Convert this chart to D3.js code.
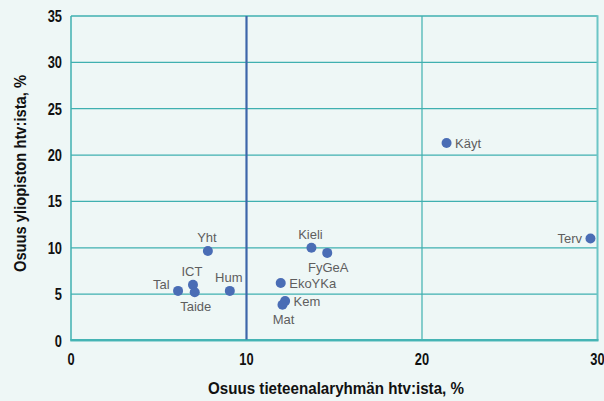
<!DOCTYPE html>
<html>
<head>
<meta charset="utf-8">
<script src="https://cdn.jsdelivr.net/npm/d3@7"></script>
<style>
  html, body { margin: 0; padding: 0; background: #eef7f6; }
  svg { display: block; }
</style>
</head>
<body>
<svg id="chart" width="604" height="401"></svg>
<script>
// ---- data ----
const categories = ["Käyt", "Terv", "Kieli", "FyGeA", "Yht", "ICT", "Taide", "Tal", "Hum", "EkoYKa", "Kem", "Mat"];
const xValues = [21.4, 29.6, 13.7, 14.6, 7.8, 6.95, 7.05, 6.1, 9.05, 11.95, 12.2, 12.05];
const yValues = [21.3, 11.0, 10.0, 9.45, 9.65, 6.0, 5.2, 5.35, 5.35, 6.2, 4.25, 3.85];
const xTicks = [0, 10, 20, 30];
const yTicks = [0, 5, 10, 15, 20, 25, 30, 35];
const xTitle = "Osuus tieteenalaryhmän htv:ista, %";
const yTitle = "Osuus yliopiston htv:ista, %";

// label placement (style)
const place = {
  "Käyt": "right", "Terv": "left", "Kieli": "above", "FyGeA": "below", "Yht": "above",
  "ICT": "above", "Taide": "below", "Tal": "leftHigh", "Hum": "above", "EkoYKa": "right",
  "Kem": "right", "Mat": "below"
};
const placeOffsets = {
  above: [-1, -9, "middle"],
  below: [1, 19, "middle"],
  right: [8.5, 4.5, "start"],
  left: [-8.5, 4.5, "end"],
  leftHigh: [-8.5, -1.5, "end"]
};

const svg = d3.select("#chart");
const x = d3.scaleLinear().domain([0, 30]).range([71, 597.5]);
const y = d3.scaleLinear().domain([0, 35]).range([340.5, 16]);

const teal = "#3fb0b0";
const boldFont = "'Liberation Sans', Arial, sans-serif";
const sx = 0.78; // condensed look

// background
svg.append("rect").attr("width", 604).attr("height", 401).attr("fill", "#eef7f6");

// horizontal grid lines
svg.append("g").selectAll("line").data(yTicks.filter(d => d > 0)).join("line")
  .attr("x1", x(0)).attr("x2", x(30))
  .attr("y1", d => y(d)).attr("y2", d => y(d))
  .attr("stroke", teal).attr("stroke-width", 1.3);

// vertical line at 20
svg.append("line").attr("x1", x(20)).attr("x2", x(20)).attr("y1", y(35)).attr("y2", y(0))
  .attr("stroke", teal).attr("stroke-width", 1.2);
// left axis line
svg.append("line").attr("x1", x(0)).attr("x2", x(0)).attr("y1", y(35)).attr("y2", y(0))
  .attr("stroke", teal).attr("stroke-width", 1.5);
// right border
svg.append("line").attr("x1", x(30)).attr("x2", x(30)).attr("y1", y(35) - 0.7).attr("y2", y(0))
  .attr("stroke", "#6cc6c6").attr("stroke-width", 2);
// bottom axis
svg.append("line").attr("x1", x(0) - 0.7).attr("x2", x(30) + 1).attr("y1", y(0) - 0.5).attr("y2", y(0) - 0.5)
  .attr("stroke", "#45b4b4").attr("stroke-width", 2);
svg.append("line").attr("x1", x(0) - 0.7).attr("x2", x(30) + 1).attr("y1", y(0) + 1).attr("y2", y(0) + 1)
  .attr("stroke", "#9fd8d8").attr("stroke-width", 1);
// vertical blue line at 10
svg.append("line").attr("x1", x(10)).attr("x2", x(10)).attr("y1", y(35)).attr("y2", y(0) - 1)
  .attr("stroke", "#3d66aa").attr("stroke-width", 2.2);

// y tick labels
svg.append("g").selectAll("text").data(yTicks).join("text")
  .attr("transform", d => `translate(62,${y(d) + 6}) scale(${sx},1)`)
  .attr("text-anchor", "end")
  .attr("font-family", boldFont).attr("font-weight", "bold").attr("font-size", 16.5)
  .attr("fill", "#111")
  .text(d => d);

// x tick labels
svg.append("g").selectAll("text").data(xTicks).join("text")
  .attr("transform", d => `translate(${x(d)},365) scale(${sx},1)`)
  .attr("text-anchor", "middle")
  .attr("font-family", boldFont).attr("font-weight", "bold").attr("font-size", 16.5)
  .attr("fill", "#111")
  .text(d => d);

// axis titles
svg.append("text").attr("x", 336).attr("y", 393.5)
  .attr("text-anchor", "middle")
  .attr("textLength", 256).attr("lengthAdjust", "spacingAndGlyphs")
  .attr("font-family", boldFont).attr("font-weight", "bold").attr("font-size", 16.5)
  .attr("fill", "#111").text(xTitle);

svg.append("text")
  .attr("transform", `translate(26,173.5) rotate(-90)`)
  .attr("text-anchor", "middle")
  .attr("textLength", 197).attr("lengthAdjust", "spacingAndGlyphs")
  .attr("font-family", boldFont).attr("font-weight", "bold").attr("font-size", 16.5)
  .attr("fill", "#111").text(yTitle);

// points
const pts = categories.map((c, i) => ({ c, xv: xValues[i], yv: yValues[i] }));
svg.append("g").selectAll("circle").data(pts).join("circle")
  .attr("cx", d => x(d.xv)).attr("cy", d => y(d.yv)).attr("r", 5)
  .attr("fill", "#4a6db5");

// labels
svg.append("g").selectAll("text").data(pts).join("text")
  .attr("x", d => x(d.xv) + placeOffsets[place[d.c]][0])
  .attr("y", d => y(d.yv) + placeOffsets[place[d.c]][1])
  .attr("text-anchor", d => placeOffsets[place[d.c]][2])
  .attr("font-family", "'Liberation Sans', Arial, sans-serif")
  .attr("font-size", 13)
  .attr("fill", "#5e5e5e")
  .text(d => d.c);
</script>
</body>
</html>
